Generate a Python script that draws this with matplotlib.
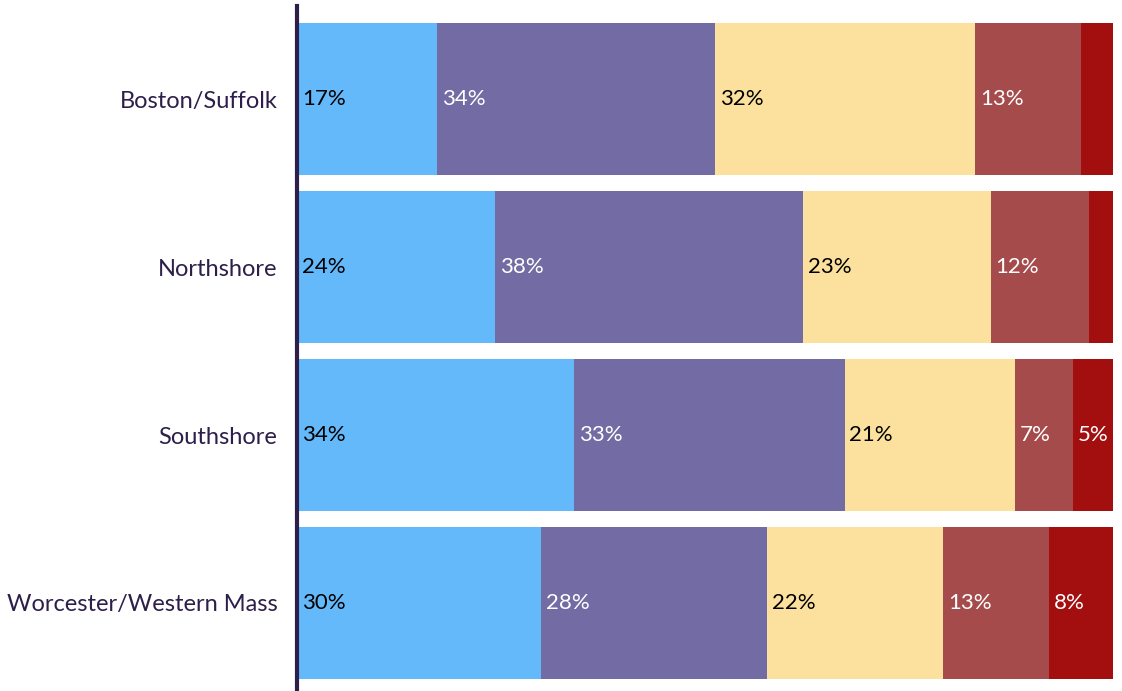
import matplotlib.pyplot as plt
import numpy as np

# share of responses per region, five answer groups (left to right)
regions = ["Boston/Suffolk", "Northshore", "Southshore", "Worcester/Western Mass"]
group1 = [17.2, 24.3, 34.0, 29.9]
group2 = [34.0, 37.7, 33.1, 27.7]
group3 = [31.9, 23.0, 20.9, 21.6]
group4 = [13.0, 12.0, 7.1, 13.0]
group5 = [3.9, 3.0, 4.9, 7.8]

colors = ["#64b9fa", "#736ba3", "#fbe19d", "#a64b4b", "#a30f0f"]
text_colors = ["black", "white", "black", "white", "white"]

plt.rcParams['font.family'] = ['Lato', 'DejaVu Sans']

fig = plt.figure(figsize=(11.22, 6.91), dpi=100)
ax = fig.add_axes([297 / 1122, 0, (1113 - 297) / 1122, 1 - 6 / 691])

y = np.arange(len(regions))
left = np.zeros(len(regions))
for vals, c, tc in zip([group1, group2, group3, group4, group5], colors, text_colors):
    vals = np.array(vals)
    ax.barh(y, vals, left=left, height=0.905, color=c, linewidth=0)
    for yi, l, v in zip(y, left, vals):
        if v >= 4.5:
            ax.text(l + 0.6, yi, f"{v:.0f}%", color=tc, fontsize=16,
                    va="center", ha="left")
    left += vals

ax.set_xlim(0, 100)
ax.set_ylim(3.524, -0.554)
ax.set_yticks(y)
ax.set_yticklabels(regions, fontsize=17, color="#2d1f4a")
ax.tick_params(axis="y", length=0, pad=14)
ax.set_xticks([])
for s in ["top", "right", "bottom"]:
    ax.spines[s].set_visible(False)
ax.spines["left"].set_color("#2d1f4a")
ax.spines["left"].set_linewidth(3)

fig.savefig("out.png", dpi=100)
